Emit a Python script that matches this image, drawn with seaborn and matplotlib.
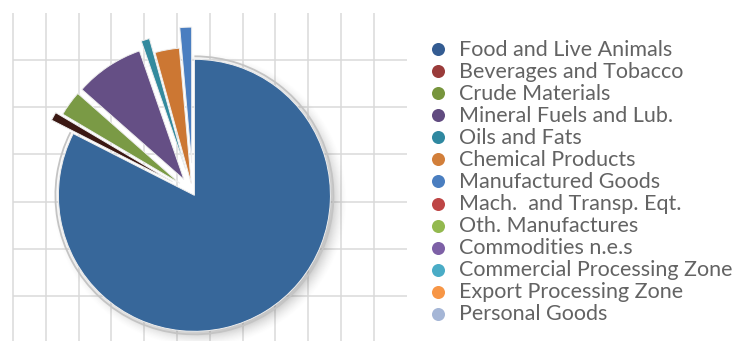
import numpy as np
import matplotlib
matplotlib.use("Agg")
import matplotlib.pyplot as plt
import seaborn as sns
from matplotlib.patches import Arc

categories = [
    "Food and Live Animals",
    "Beverages and Tobacco",
    "Crude Materials",
    "Mineral Fuels and Lub.",
    "Oils and Fats",
    "Chemical Products",
    "Manufactured Goods",
    "Mach.  and Transp. Eqt.",
    "Oth. Manufactures",
    "Commodities n.e.s",
    "Commercial Processing Zone",
    "Export Processing Zone",
    "Personal Goods",
]
values = [82.5, 1.0, 3.0, 8.2, 1.0, 2.9, 1.4, 0, 0, 0, 0, 0, 0]
legend_colors = ["#345C92", "#9A3B3A", "#77953D", "#614B80", "#2F88A0",
                 "#D27F3A", "#4A7EC0", "#BE4646", "#93B94F", "#7D60A6",
                 "#4AACC6", "#F79646", "#A5B6D6"]
slice_colors = ["#37679A", "#3B1813", "#7A9A45", "#654F85", "#338A9E",
                "#CC7733", "#4A7EC0", "#BE4646", "#93B94F", "#7D60A6",
                "#4AACC6", "#F79646", "#A5B6D6"]
explode_frac = [0.02, 0.17, 0.12, 0.12, 0.18, 0.07, 0.22, 0, 0, 0, 0, 0, 0]

sns.set_theme(style="white")
plt.rcParams['font.family'] = ['Lato', 'DejaVu Sans']

W, H = 743, 341
fig = plt.figure(figsize=(W / 100, H / 100), dpi=100)
ax = fig.add_axes([0, 0, 1, 1])
ax.set_axis_off()

# background grid
grid_x = 13 + 32.8 * np.arange(12)
grid_y = 60 + 47.2 * np.arange(6)
ax.vlines(grid_x, 0, H - 13, color="#dadada", lw=1.1, zorder=0)
ax.hlines(H - grid_y, 13, 407, color="#dadada", lw=1.1, zorder=0)

# pie
cx, cy, R = 193, H - 193, 136
nz = [i for i, v in enumerate(values) if v > 0]

# soft shadow (outside the pie only)
xs = np.linspace(cx - R - 40, cx + R + 40, 400)
ys = np.linspace(cy - R - 40, cy + R + 40, 400)
X, Y = np.meshgrid(xs, ys)
d = np.hypot(X - (cx + 7), Y - (cy - 7))
a = np.clip((R + 12 - d) / 22, 0, 1) ** 1.6 * 0.45
a[np.hypot(X - cx, Y - cy) < R - 2] = 0
img = np.zeros((len(ys), len(xs), 4))
img[..., :3] = 0.25
img[..., 3] = a
ax.imshow(img, extent=(xs[0], xs[-1], ys[0], ys[-1]), origin="lower",
          aspect="auto", zorder=1, interpolation="bilinear")

wedges, _ = ax.pie([values[i] for i in nz],
                   colors=[slice_colors[i] for i in nz],
                   explode=[explode_frac[i] * R for i in nz],
                   startangle=90, counterclock=False,
                   center=(cx, cy), radius=R,
                   wedgeprops=dict(edgecolor="#eeeeee", linewidth=0.7))
for w in wedges:
    w.set_zorder(3)
w0 = wedges[0]
ax.add_patch(Arc(w0.center, 2 * (R + 3), 2 * (R + 3), theta1=w0.theta1,
                 theta2=w0.theta2, color="#c4c4c4", lw=1.3, zorder=2.5))

ax.set_xlim(0, W)
ax.set_ylim(0, H)

# legend
t = ax.text(0, 0, categories[0], fontsize=16, weight="normal")
fig.canvas.draw()
wpx = t.get_window_extent().width
t.remove()
fs = 16 * 214 / wpx
for i, (cat, col) in enumerate(zip(categories, legend_colors)):
    ax.scatter([438], [H - (49 + 22.08 * i)], s=88, color=col, zorder=4,
               linewidths=0)
    ax.text(459, H - (55.5 + 22.08 * i), cat, fontsize=fs, color="#636363",
            va="baseline", ha="left", weight="normal")

fig.savefig("out.png", dpi=100)
